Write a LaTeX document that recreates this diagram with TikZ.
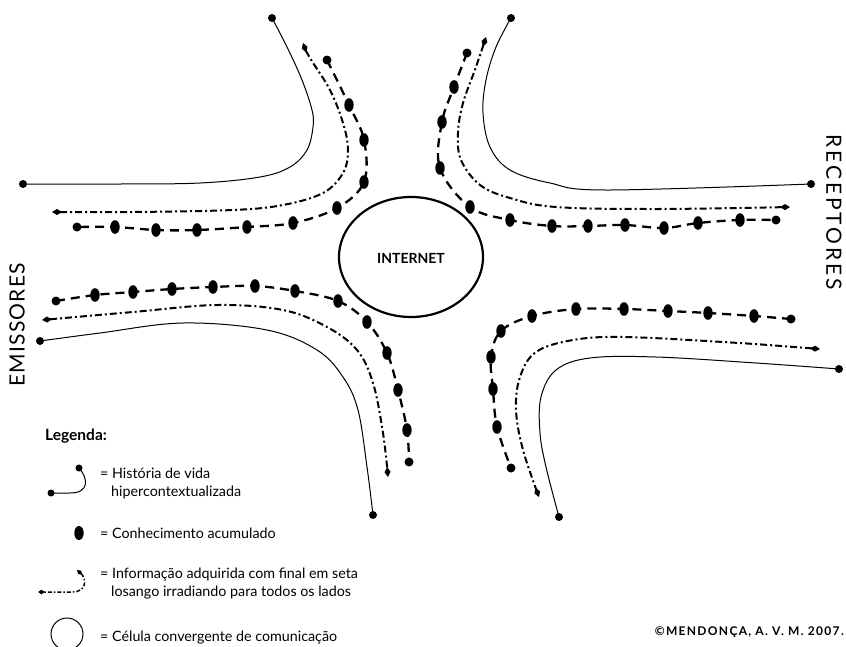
\documentclass[tikz,border=0pt]{standalone}
\usepackage{fontspec}
\setmainfont{Lato}
\newfontfamily\spacedfont[LetterSpace=6]{Lato}
\newfontfamily\widefont[LetterSpace=14]{Lato}
\newfontfamily\creditfont[LetterSpace=11]{Lato}
\usetikzlibrary{arrows.meta}
\begin{document}
\begin{tikzpicture}[x=1pt,y=-1pt,
  solidline/.style={line width=1pt},
  infoline/.style={line width=2pt, dash pattern=on 7pt off 3pt on 2pt off 3pt,
     {Diamond[length=10pt,width=6pt]}-{Diamond[length=10pt,width=6pt]}},
  knowline/.style={line width=2.3pt, dash pattern=on 9pt off 6pt},
  txt/.style={font=\fontsize{14.3}{16}\selectfont, anchor=west, inner sep=0pt},
]
\useasboundingbox (0,0) rectangle (846,646);

% ---------- INTERNET cell ----------
\draw[line width=2.2pt] (411,257) ellipse [x radius=72pt, y radius=60pt];
\node[font=\bfseries\fontsize{14}{16}\selectfont] (internet) at (411,258) {INTERNET};

% ---------- Top-left ----------
\draw[solidline] plot[smooth, tension=0.6] coordinates {(272,18) (287,47) (302,80) (312,110) (313,127) (307,150) (290,167) (260,177) (200,183) (120,184) (23,184)};
\fill (272,18) circle (4pt); \fill (23,184) circle (4pt);
\draw[infoline] plot[smooth, tension=0.6] coordinates {(303,43) (310,58) (330,90) (343,123) (348,150) (343,173) (323,193) (283,205) (233,210) (133,212) (52,212)};
\draw[knowline] plot[smooth, tension=0.6] coordinates {(327,60) (349,105) (364,140) (364,182) (337,208) (293,223) (247,227) (197,230) (156,230) (115,227) (77,227)};
\fill (327,60) circle (4.5pt); \fill (77,227) circle (4.5pt);
\foreach \p in {(349,105),(364,140),(364,182),(337,208),(293,223),(247,227),(197,230),(156,230),(115,227)}
  \fill \p ellipse [x radius=4.7pt, y radius=6.8pt];

% ---------- Top-right ----------
\draw[solidline] plot[smooth, tension=0.6] coordinates {(511,18) (496,47) (486,80) (483,113) (490,147) (510,170) (550,183) (606,190) (811,184)};
\fill (511,18) circle (4pt); \fill (811,184) circle (4pt);
\draw[infoline] plot[smooth, tension=0.6] coordinates {(486,37) (476,67) (463,103) (458,133) (461,160) (480,185) (510,198) (556,207) (656,209) (790,207)};
\draw[knowline] plot[smooth, tension=0.6] coordinates {(467,53) (454,87) (442,122) (440,168) (470,207) (510,220) (552,226) (588,226) (625,225) (664,228) (698,223) (740,220) (776,220)};
\fill (467,53) circle (4.5pt); \fill (776,220) circle (4.5pt);
\foreach \p in {(454,87),(442,122),(440,168),(470,207),(510,220),(552,226),(588,226),(625,225),(664,228),(698,223),(740,220)}
  \fill \p ellipse [x radius=4.7pt, y radius=6.8pt];

% ---------- Bottom-left ----------
\draw[solidline] plot[smooth, tension=0.6] coordinates {(40,341) (100,333) (183,323) (267,330) (317,350) (343,377) (358,410) (367,467) (373,515)};
\fill (40,341) circle (4pt); \fill (373,515) circle (4pt);
\draw[infoline] plot[smooth, tension=0.6] coordinates {(42,320) (133,312) (217,305) (283,310) (327,327) (357,350) (373,383) (383,433) (388,477)};
\draw[knowline] plot[smooth, tension=0.6] coordinates {(56,301) (95,295) (133,292) (172,289) (213,287) (255,286) (295,291) (338,301) (367,322) (387,353) (398,390) (407,430) (409,462)};
\fill (56,301) circle (4.5pt); \fill (409,462) circle (4.5pt);
\foreach \p in {(95,295),(133,292),(172,289),(213,287),(255,286),(295,291),(338,301),(367,322),(387,353),(398,390),(407,430)}
  \fill \p ellipse [x radius=4.7pt, y radius=6.8pt];

% ---------- Bottom-right ----------
\draw[solidline] plot[smooth, tension=0.6] coordinates {(839,369) (756,363) (656,357) (590,358) (556,370) (541,397) (540,433) (546,467) (559,517)};
\fill (839,369) circle (4pt); \fill (559,517) circle (4pt);
\draw[infoline] plot[smooth, tension=0.6] coordinates {(820,349) (723,342) (623,337) (573,340) (536,352) (520,377) (516,410) (523,450) (539,497)};
\draw[knowline] plot[smooth, tension=0.6] coordinates {(791,319) (754,316) (708,313) (668,311) (624,309) (576,309) (532,316) (501,331) (491,357) (493,389) (497,427) (511,468)};
\fill (791,319) circle (4.5pt); \fill (511,468) circle (4.5pt);
\foreach \p in {(754,316),(708,313),(668,311),(624,309),(576,309),(532,316),(501,331),(491,357),(493,389),(497,427)}
  \fill \p ellipse [x radius=4.7pt, y radius=6.8pt];

% ---------- Side labels ----------
\node[rotate=90, font=\spacedfont\fontsize{21}{23}\selectfont, inner sep=0pt] (emissores) at (17,325) {EMISSORES};
\node[rotate=-90, font=\widefont\fontsize{21}{23}\selectfont, inner sep=0pt] (receptores) at (834,212) {RECEPTORES};

% ---------- Legend ----------
\node[txt, font=\bfseries\fontsize{15.5}{17}\selectfont] (legenda) at (45,436) {Legenda:};

\draw[solidline] (79,468) .. controls (88,478) and (90,493) .. (70,493) -- (51,493);
\fill (79,468) circle (3.5pt); \fill (51,493) circle (3.5pt);
\node[txt] (hist1) at (100,473) {= História de vida};
\node[txt] (hist2) at (111,492) {hipercontextualizada};

\fill (79,533) ellipse [x radius=4.7pt, y radius=7pt];
\node[txt] (conh) at (100,533) {= Conhecimento acumulado};

\draw[line width=1.5pt, dash pattern=on 4pt off 2pt on 1.5pt off 2pt,
  {Diamond[length=7pt,width=4.5pt]}-{Diamond[length=7pt,width=4.5pt]}]
  (77,570) .. controls (86,578) and (88,592) .. (72,592) -- (38,592);
\node[txt] (info1) at (100,575) {= Informação adquirida com final em seta};
\node[txt] (info2) at (111,593) {losango irradiando para todos os lados};

\draw[line width=1pt] (67,634) circle (16pt);
\node[txt] (celula) at (100,638) {= Célula convergente de comunicação};

\node[font=\creditfont\bfseries\fontsize{12}{14}\selectfont, anchor=east, inner sep=0pt] (credit) at (844,632) {©MENDONÇA, A. V. M. 2007.};
\end{tikzpicture}
\end{document}
